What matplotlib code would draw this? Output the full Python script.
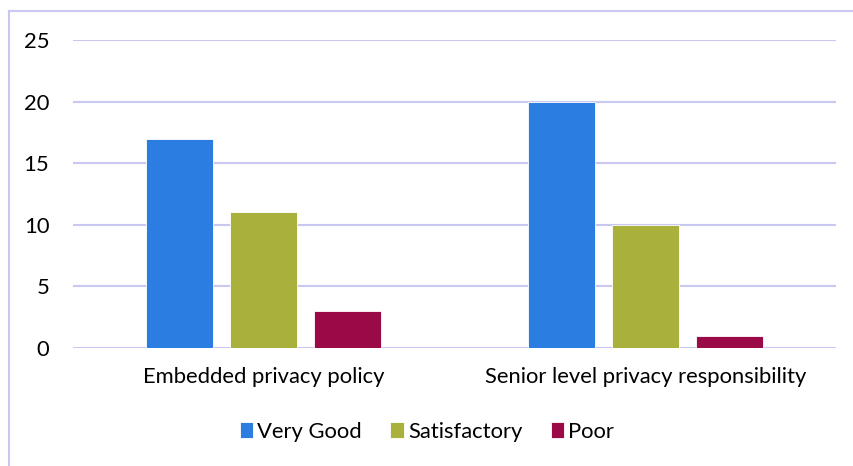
import matplotlib.pyplot as plt
import numpy as np
from matplotlib.lines import Line2D

plt.rcParams['font.family'] = ['Lato', 'DejaVu Sans']

categories = ['Embedded privacy policy', 'Senior level privacy responsibility']
series = ['Very Good', 'Satisfactory', 'Poor']
very_good = [17, 20]
satisfactory = [11, 10]
poor = [3, 1]
colors = ['#2B7DE1', '#A9B03B', '#990A47']

fig = plt.figure(figsize=(8.54, 4.66), dpi=100)
W, H = 854, 466
ax = fig.add_axes([73 / W, 1 - 348 / H, (836 - 73) / W, (348 - 40) / H])

x = np.arange(len(categories))
width = 0.176
offset = 0.22
for i, (vals, name) in enumerate(zip([very_good, satisfactory, poor], series)):
    ax.bar(x + (i - 1) * offset, vals, width, color=colors[i], label=name,
           edgecolor='white', linewidth=0.6, zorder=3)

ax.set_xlim(-0.5, 1.5)
ax.set_ylim(0, 25)
ax.set_yticks([0, 5, 10, 15, 20, 25])
ax.set_xticks(x)
ax.set_xticklabels(categories)
ax.grid(axis='y', color='#C8C8F0', linewidth=1.5, zorder=0)
for s in ax.spines.values():
    s.set_visible(False)
ax.tick_params(length=0, labelsize=15.8, colors='black')
ax.tick_params(axis='y', pad=17)
ax.tick_params(axis='x', pad=14)

leg = fig.legend(loc='center', bbox_to_anchor=(0.5, 1 - 432 / H), ncol=3,
                 frameon=False, fontsize=15.8, handlelength=0.6, handleheight=0.75,
                 handletextpad=0.2, columnspacing=1.3)

# outer chart border (only left and top visible in the reference)
fig.add_artist(Line2D([9 / W, 9 / W], [0, 1 - 11 / H], transform=fig.transFigure,
                      color='#C8C8F0', linewidth=1.5))
fig.add_artist(Line2D([9 / W, 1], [1 - 11 / H, 1 - 11 / H], transform=fig.transFigure,
                      color='#C8C8F0', linewidth=1.5))

fig.savefig('out.png', dpi=100)
